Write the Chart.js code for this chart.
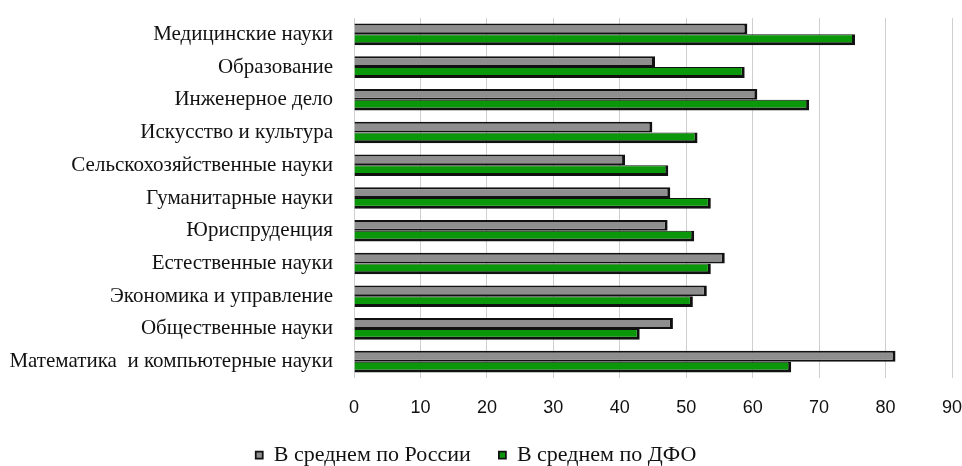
<!DOCTYPE html>
<html>
<head>
<meta charset="utf-8">
<script src="https://cdn.jsdelivr.net/npm/chart.js@4/dist/chart.umd.min.js"></script>
<style>
  html, body { margin: 0; padding: 0; background: #fff; }
  #wrap { width: 962px; height: 466px; }
</style>
</head>
<body>
<div id="wrap"><canvas id="myChart"></canvas></div>
<script>
const categories = [
    'Медицинские науки',
    'Образование',
    'Инженерное дело',
    'Искусство и культура',
    'Сельскохозяйственные науки',
    'Гуманитарные науки',
    'Юриспруденция',
    'Естественные науки',
    'Экономика и управление',
    'Общественные науки',
    'Математика  и компьютерные науки'
];
const russia = [59.2, 45.3, 60.7, 44.9, 40.8, 47.6, 47.2, 55.8, 53.1, 48.0, 81.5];
const dfo    = [75.4, 58.8, 68.5, 51.7, 47.3, 53.7, 51.2, 53.7, 51.0, 43.0, 65.8];
const xTicks = [0, 10, 20, 30, 40, 50, 60, 70, 80, 90];

const serif = '"Liberation Serif", "DejaVu Serif", serif';

const ctx = document.getElementById('myChart').getContext('2d');
const myChart = new Chart(ctx, {
    type: 'bar',
    data: {
        labels: categories,
        datasets: [{
            label: 'В среднем по России',
            data: russia,
            backgroundColor: '#8e8e8e',
            borderColor: '#111',
            borderWidth: {top: 2, right: 3, bottom: 2, left: 0},
            borderSkipped: false,
            categoryPercentage: 0.66,
            barPercentage: 1.0
        }, {
            label: 'В среднем по ДФО',
            data: dfo,
            backgroundColor: '#0a970a',
            borderColor: '#111',
            borderWidth: {top: 1, right: 3, bottom: 3, left: 0},
            borderSkipped: false,
            categoryPercentage: 0.66,
            barPercentage: 1.0
        }]
    },
    options: {
        indexAxis: 'y',
        responsive: true,
        maintainAspectRatio: false,
        animation: false,
        layout: { padding: { left: 0, right: 10, top: 18, bottom: -10 } },
        scales: {
            x: {
                min: 0,
                max: 90,
                afterBuildTicks: (scale) => { scale.ticks = xTicks.map(v => ({value: v})); },
                afterFit: (scale) => {
                    scale.paddingLeft = 0;
                    scale.paddingRight = 0;
                    scale.height = 38;
                },
                grid: { color: '#cfcfcf', lineWidth: 1, drawTicks: false },
                border: { display: false },
                ticks: {
                    color: '#111',
                    padding: 19,
                    font: { family: '"Liberation Sans", sans-serif', size: 18 }
                }
            },
            y: {
                afterFit: (scale) => {
                    scale.width = 354;
                    scale.paddingTop = 0;
                    scale.paddingBottom = 0;
                },
                grid: { display: false },
                border: { display: false },
                ticks: {
                    color: '#111',
                    padding: 13,
                    font: { family: serif, size: 21 }
                }
            }
        },
        plugins: {
            legend: {
                position: 'bottom',
                labels: {
                    color: '#111',
                    boxWidth: 7,
                    boxHeight: 7,
                    padding: 28,
                    font: { family: serif, size: 22 }
                }
            },
            tooltip: { enabled: false }
        }
    }
});
</script>
</body>
</html>
